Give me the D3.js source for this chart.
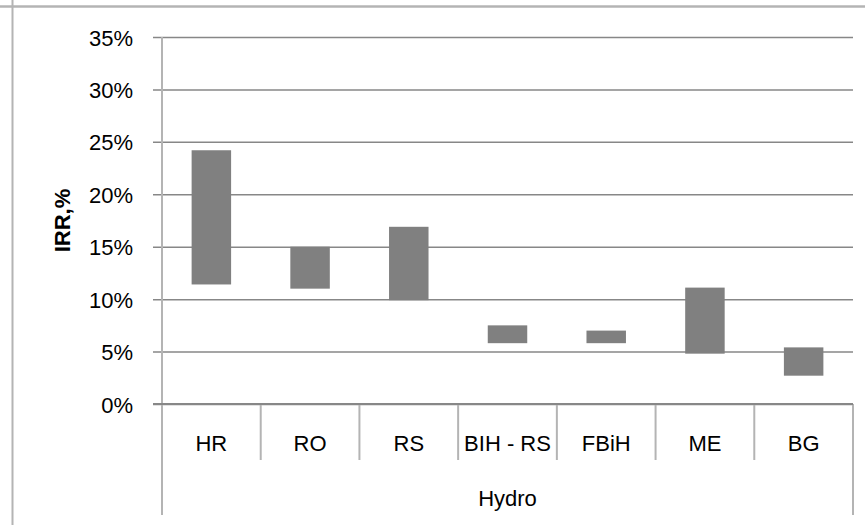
<!DOCTYPE html>
<html>
<head>
<meta charset="utf-8">
<script src="https://cdn.jsdelivr.net/npm/d3@7/dist/d3.min.js"></script>
<style>
  html, body { margin: 0; padding: 0; background: #fff; }
  svg { display: block; }
  text { font-family: "Liberation Sans", Arial, sans-serif; fill: #000; }
</style>
</head>
<body>
<svg id="chart" width="865" height="525"></svg>
<script>
// IRR ranges (low to high) for hydro projects by country
const categories = ["HR", "RO", "RS", "BIH - RS", "FBiH", "ME", "BG"];
const irrLow  = [0.114, 0.110, 0.099, 0.058, 0.058, 0.048, 0.027];
const irrHigh = [0.242, 0.150, 0.169, 0.075, 0.070, 0.111, 0.054];
const yTicks  = [0, 0.05, 0.10, 0.15, 0.20, 0.25, 0.30, 0.35];
const groupLabel = "Hydro";
const yTitle = "IRR,%";

const svg = d3.select("#chart");
const W = 865, H = 525;
const plot = { left: 162, right: 853, top: 37, bottom: 404 };
const axisBottom = 515;

const x = d3.scaleBand().domain(categories).range([plot.left, plot.right]).paddingInner(0).paddingOuter(0);
const y = d3.scaleLinear().domain([0, 0.35]).range([plot.bottom, plot.top]);

const gridColor = "#878787";
const frameColor = "#b4b4b4";

// outer frame (top and left edges)
svg.append("line").attr("x1", 0).attr("x2", W).attr("y1", 6.5).attr("y2", 6.5)
  .attr("stroke", frameColor).attr("stroke-width", 2.5);
svg.append("line").attr("x1", 12.5).attr("x2", 12.5).attr("y1", 0).attr("y2", H)
  .attr("stroke", frameColor).attr("stroke-width", 2);

// horizontal gridlines with tick labels
const yAxis = d3.axisLeft(y).tickValues(yTicks).tickFormat(d3.format(".0%"))
  .tickSize(-(plot.right - plot.left)).tickSizeOuter(0).tickPadding(0);
const gy = svg.append("g").attr("transform", `translate(${plot.left},0)`).call(yAxis);
gy.select(".domain").remove();
gy.selectAll(".tick line")
  .attr("x1", -9)
  .attr("stroke", gridColor).attr("stroke-width", 1.5);
gy.selectAll(".tick text")
  .attr("x", -29).attr("dy", "0.37em")
  .attr("font-size", 22).attr("fill", "#000")
  .style("font-family", '"Liberation Sans", Arial, sans-serif');

// vertical value axis line, running down through the category area
svg.append("line").attr("x1", plot.left).attr("x2", plot.left)
  .attr("y1", plot.top).attr("y2", axisBottom)
  .attr("stroke", frameColor).attr("stroke-width", 2);
// right edge of the category area
svg.append("line").attr("x1", plot.right).attr("x2", plot.right)
  .attr("y1", plot.bottom).attr("y2", axisBottom)
  .attr("stroke", frameColor).attr("stroke-width", 2);

// category separators
const sep = categories.slice(1).map(c => x(c));
svg.append("g").selectAll("line").data(sep).join("line")
  .attr("x1", d => d).attr("x2", d => d)
  .attr("y1", plot.bottom).attr("y2", 460)
  .attr("stroke", frameColor).attr("stroke-width", 2);

// floating range bars
const barW = x.bandwidth() * 0.4;
svg.append("g").selectAll("rect").data(categories).join("rect")
  .attr("x", (d) => x(d) + (x.bandwidth() - barW) / 2)
  .attr("width", barW)
  .attr("y", (d, i) => y(irrHigh[i]))
  .attr("height", (d, i) => y(irrLow[i]) - y(irrHigh[i]))
  .attr("fill", "#808080");

// x axis baseline
svg.append("line").attr("x1", plot.left - 9).attr("x2", plot.right)
  .attr("y1", y(0)).attr("y2", y(0))
  .attr("stroke", gridColor).attr("stroke-width", 2);

// category labels
svg.append("g").selectAll("text").data(categories).join("text")
  .attr("x", d => x(d) + x.bandwidth() / 2)
  .attr("y", 451)
  .attr("text-anchor", "middle")
  .attr("font-size", 22)
  .text(d => d);

// group label
svg.append("text")
  .attr("x", (plot.left + plot.right) / 2).attr("y", 506)
  .attr("text-anchor", "middle").attr("font-size", 22)
  .text(groupLabel);

// y axis title
svg.append("text")
  .attr("transform", `translate(70,${(plot.top + plot.bottom) / 2}) rotate(-90)`)
  .attr("text-anchor", "middle").attr("font-size", 22).attr("font-weight", "bold")
  .text(yTitle);
</script>
</body>
</html>
